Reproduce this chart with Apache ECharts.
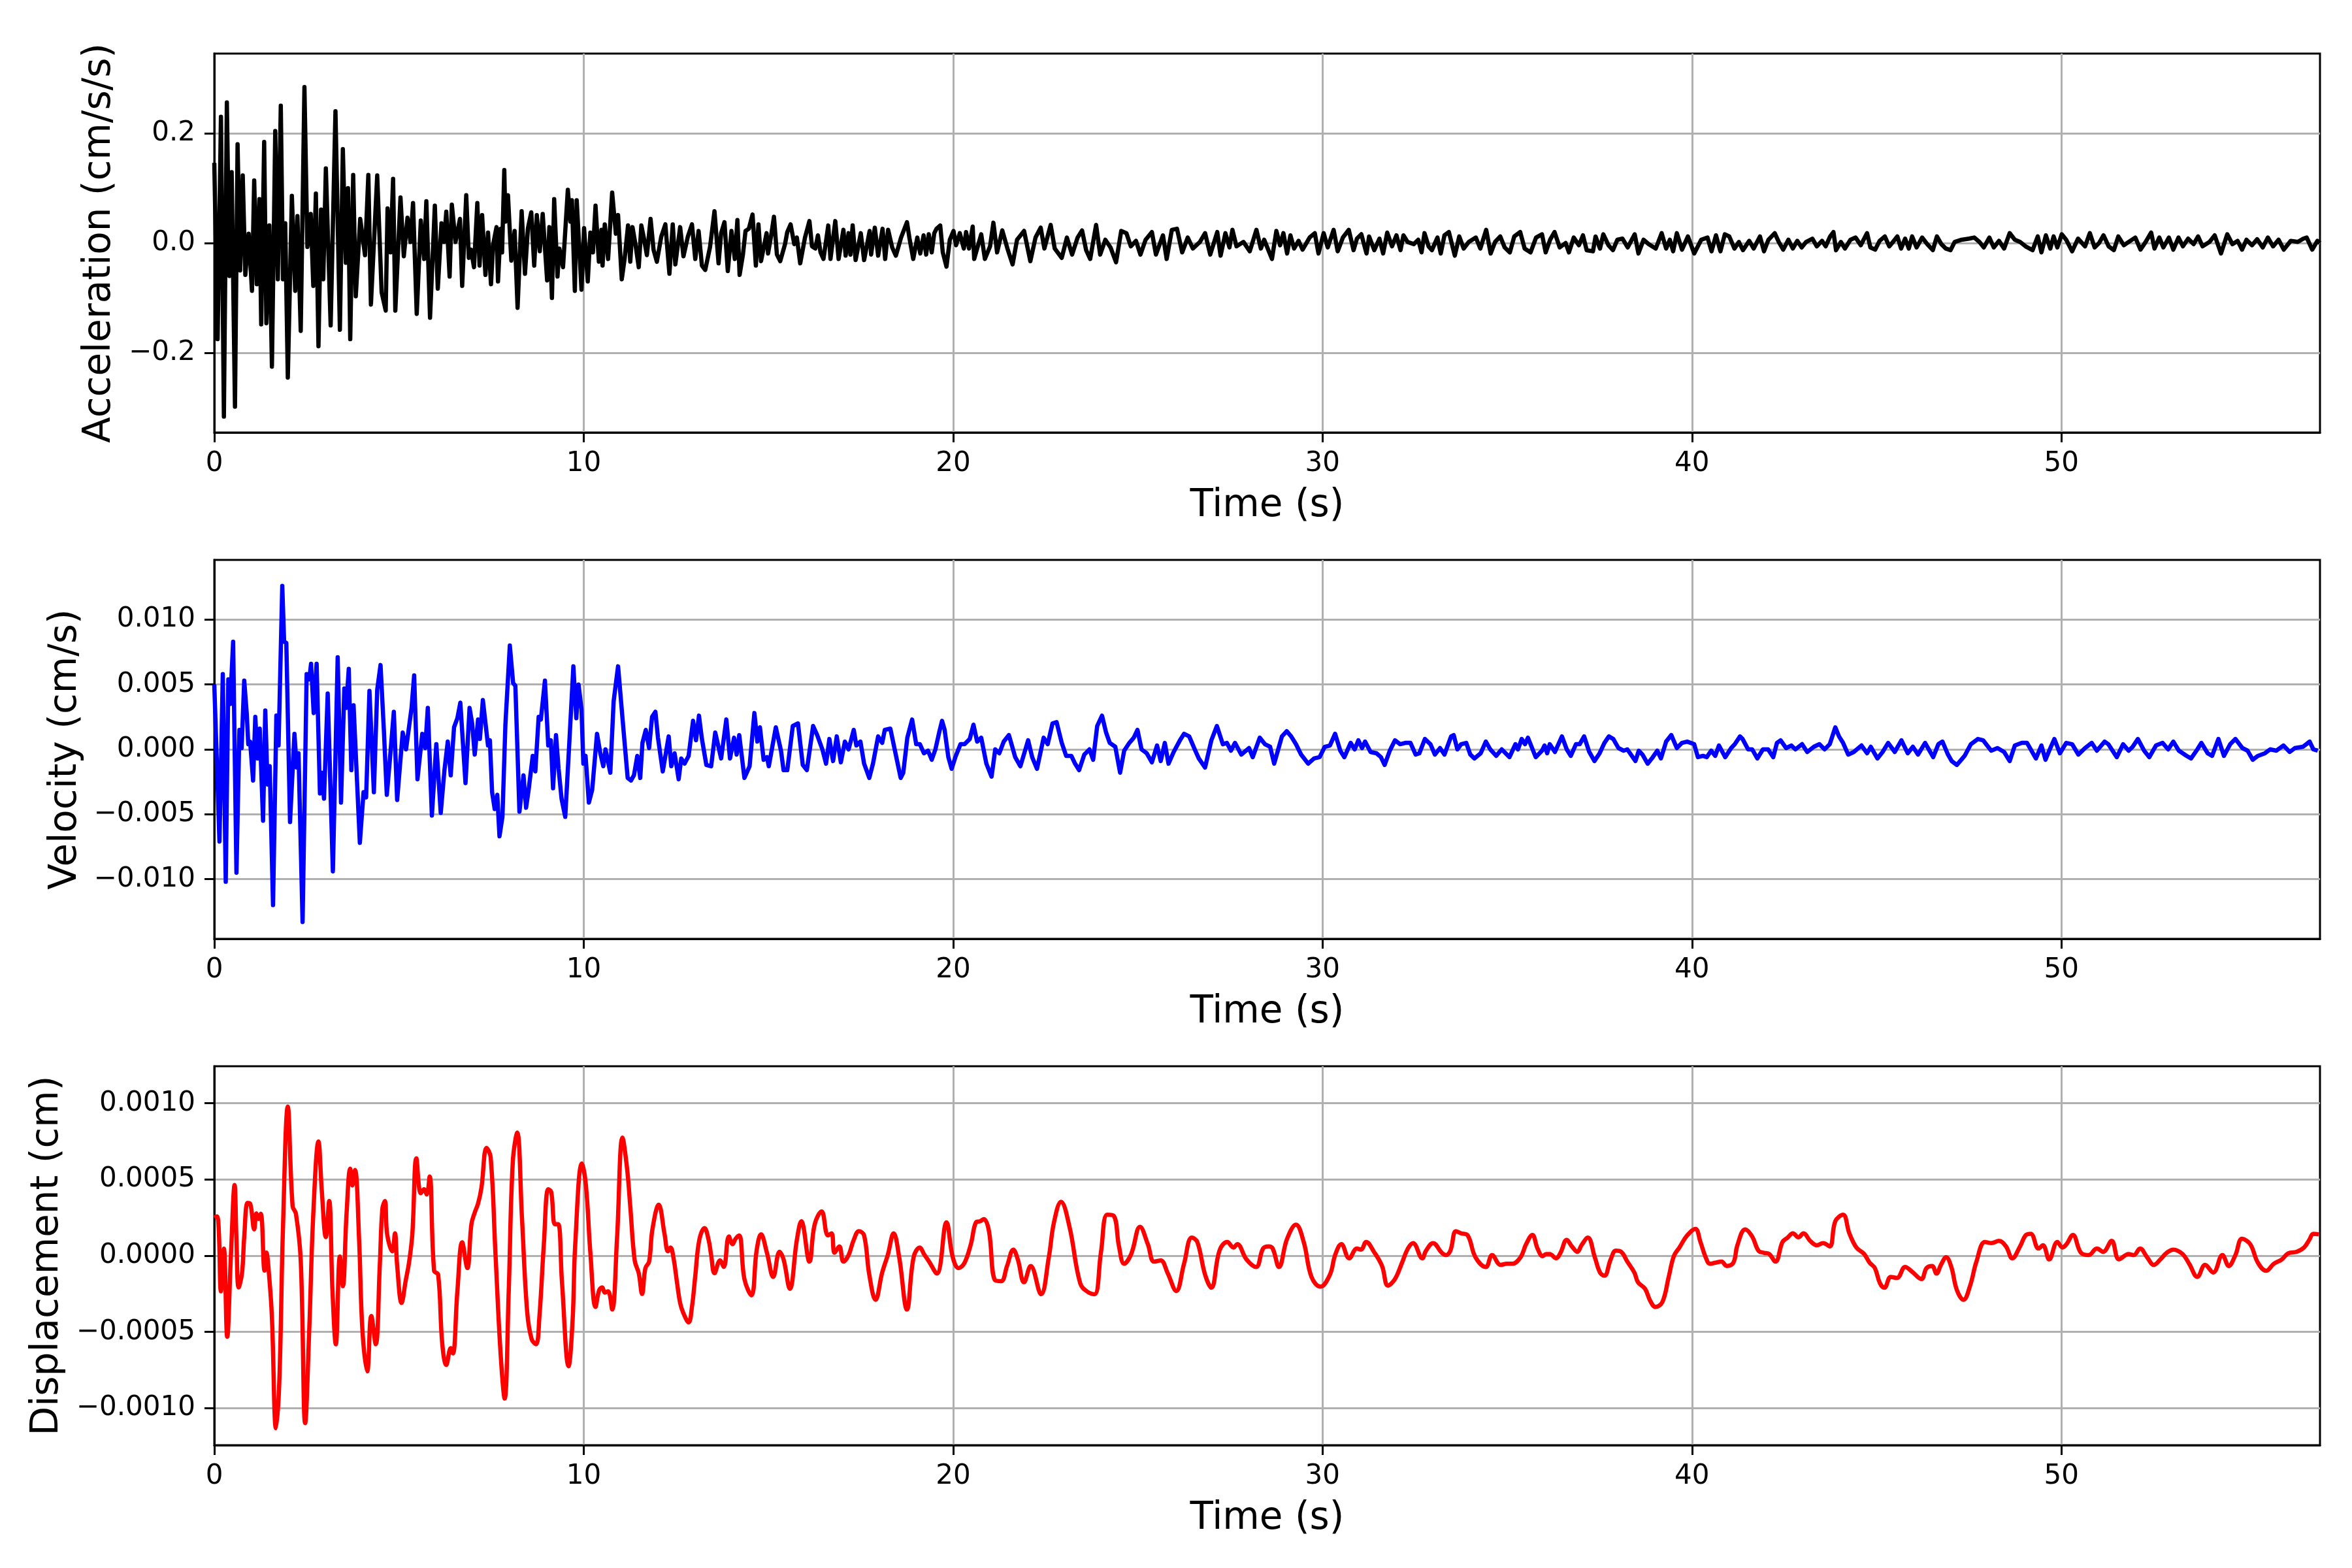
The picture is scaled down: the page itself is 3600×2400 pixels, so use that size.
<!DOCTYPE html>
<html>
<head>
<meta charset="utf-8">
<title>Acceleration, velocity and displacement</title>
<script src="https://cdn.jsdelivr.net/npm/echarts@6/dist/echarts.min.js"></script>
<style>
  html, body { margin: 0; padding: 0; background: #ffffff; }
  #chart { width: 3600px; height: 2400px; }
</style>
</head>
<body>
<div id="chart"></div>
<script>
// time axis ticks and y tick positions
const timeTicks = [0, 10, 20, 30, 40, 50];
const accTicks = [-0.2, 0, 0.2];
const velTicks = [-0.01, -0.005, 0, 0.005, 0.01];
const dispTicks = [-0.001, -0.0005, 0, 0.0005, 0.001];

// acceleration [time s, cm/s/s]
const accel = [
  [0.00,0.146],[0.09,-0.175],[0.18,0.23],[0.26,-0.316],[0.34,0.256],[0.41,-0.06],[0.47,0.129],[0.56,-0.298],[0.63,0.18],[0.70,-0.05],
  [0.77,0.123],[0.84,-0.058],[0.93,0.017],[1.02,-0.087],[1.08,0.114],[1.15,-0.075],[1.22,0.08],[1.27,-0.148],[1.35,0.184],[1.41,-0.146],
  [1.49,0.032],[1.56,-0.225],[1.65,0.204],[1.72,-0.066],[1.80,0.25],[1.86,-0.066],[1.92,0.036],[1.99,-0.245],[2.10,0.086],[2.19,-0.087],
  [2.25,0.049],[2.34,-0.16],[2.44,0.284],[2.52,-0.007],[2.61,0.053],[2.68,-0.078],[2.75,0.09],[2.82,-0.188],[2.89,0.061],[2.95,-0.066],
  [3.02,0.136],[3.15,-0.15],[3.28,0.24],[3.40,-0.158],[3.48,0.171],[3.56,-0.036],[3.62,0.1],[3.68,-0.175],[3.76,0.124],[3.83,-0.097],
  [3.95,0.044],[4.08,-0.022],[4.17,0.124],[4.24,-0.112],[4.41,0.123],[4.53,-0.09],[4.64,-0.123],[4.69,0.063],[4.77,-0.017],[4.84,0.117],
  [4.90,-0.123],[5.04,0.083],[5.13,-0.024],[5.23,0.046],[5.31,0.002],[5.38,0.073],[5.48,-0.129],[5.59,0.041],[5.68,-0.029],[5.74,0.076],
  [5.84,-0.136],[5.97,0.068],[6.05,-0.083],[6.15,0.036],[6.22,0.002],[6.28,0.057],[6.37,-0.061],[6.43,0.07],[6.53,0.002],[6.65,0.044],
  [6.71,-0.078],[6.82,0.087],[6.89,-0.027],[6.95,-0.012],[7.03,-0.044],[7.12,0.073],[7.18,-0.041],[7.25,0.051],[7.34,-0.058],[7.41,0.019],
  [7.49,-0.075],[7.55,-0.002],[7.64,0.029],[7.68,-0.07],[7.75,0.026],[7.79,-0.017],[7.85,0.133],[7.88,0.039],[7.95,0.087],[8.04,-0.032],
  [8.13,0.022],[8.21,-0.118],[8.32,0.058],[8.41,-0.056],[8.49,0.027],[8.58,0.056],[8.66,-0.041],[8.73,0.051],[8.81,-0.015],[8.89,0.053],
  [9.01,-0.068],[9.07,0.029],[9.14,-0.1],[9.20,0.08],[9.29,-0.061],[9.34,-0.01],[9.44,-0.044],[9.57,0.097],[9.64,0.039],[9.68,0.078],
  [9.76,-0.087],[9.81,0.078],[9.94,-0.085],[10.01,0.027],[10.11,-0.07],[10.18,0.019],[10.25,-0.017],[10.32,0.068],[10.41,-0.034],[10.48,0.024],
  [10.51,-0.041],[10.57,0.034],[10.66,-0.029],[10.77,0.092],[10.87,0.017],[10.93,0.051],[11.03,-0.066],[11.11,-0.027],[11.20,0.032],[11.26,-0.034],
  [11.32,0.029],[11.40,-0.002],[11.49,-0.044],[11.56,0.032],[11.62,0.012],[11.71,-0.022],[11.81,0.044],[11.89,-0.012],[11.98,-0.034],[12.10,0.012],
  [12.21,0.034],[12.32,-0.056],[12.41,0.034],[12.48,-0.039],[12.61,0.029],[12.70,-0.024],[12.82,0.012],[12.93,0.034],[13.02,-0.029],[13.11,0.022],
  [13.20,-0.041],[13.29,-0.049],[13.42,-0.007],[13.54,0.058],[13.65,-0.037],[13.72,0.018],[13.81,0.038],[13.90,-0.051],[14.00,0.022],[14.09,-0.029],
  [14.16,0.042],[14.22,-0.058],[14.31,-0.021],[14.38,0.022],[14.47,0.026],[14.57,0.052],[14.66,-0.041],[14.73,0.034],[14.80,-0.033],[14.95,0.018],
  [14.99,-0.019],[15.07,0.012],[15.15,0.048],[15.23,-0.021],[15.32,-0.033],[15.45,-0.002],[15.51,0.02],[15.60,0.034],[15.70,-0.002],[15.77,0.01],
  [15.86,-0.037],[15.99,0.01],[16.11,0.04],[16.18,-0.006],[16.27,-0.01],[16.34,0.014],[16.41,-0.017],[16.49,-0.029],[16.62,0.032],[16.68,-0.029],
  [16.81,0.04],[16.90,-0.029],[17.03,0.024],[17.09,-0.023],[17.17,0.018],[17.22,-0.021],[17.28,0.032],[17.36,-0.031],[17.50,0.018],[17.59,-0.031],
  [17.74,0.022],[17.78,-0.021],[17.88,0.028],[17.97,-0.023],[18.09,0.026],[18.16,-0.029],[18.24,0.024],[18.35,-0.008],[18.45,-0.023],[18.59,0.01],
  [18.75,0.038],[18.82,0.008],[18.92,-0.029],[19.03,0.01],[19.11,-0.019],[19.20,0.014],[19.27,-0.021],[19.34,0.016],[19.42,-0.017],[19.49,0.018],
  [19.55,0.026],[19.65,0.032],[19.72,-0.017],[19.82,-0.043],[19.91,0.006],[20.01,0.022],[20.08,-0.004],[20.18,0.018],[20.29,-0.01],[20.35,0.02],
  [20.43,-0.01],[20.53,0.03],[20.57,-0.029],[20.76,0.016],[20.86,-0.029],[21.00,-0.006],[21.09,0.037],[21.19,-0.017],[21.33,0.023],[21.47,-0.01],
  [21.61,-0.039],[21.73,0.006],[21.92,0.022],[22.09,-0.033],[22.23,0.01],[22.37,0.028],[22.47,-0.01],[22.64,0.033],[22.75,-0.01],[22.94,-0.027],
  [23.08,0.01],[23.22,-0.021],[23.37,0.01],[23.49,0.023],[23.60,-0.013],[23.71,-0.029],[23.87,0.033],[23.98,-0.021],[24.12,0.006],[24.26,-0.008],
  [24.41,-0.035],[24.55,0.022],[24.69,0.018],[24.81,-0.006],[24.95,0.004],[25.07,-0.021],[25.21,0.006],[25.38,0.02],[25.49,-0.021],[25.68,0.014],
  [25.78,-0.029],[25.92,0.024],[26.06,0.026],[26.20,-0.017],[26.35,0.01],[26.49,-0.01],[26.68,0.002],[26.82,0.018],[26.96,-0.021],[27.15,0.02],
  [27.24,-0.023],[27.37,0.018],[27.48,-0.008],[27.56,0.024],[27.67,-0.006],[27.86,0.002],[28.03,-0.015],[28.21,0.024],[28.33,-0.01],[28.42,0.006],
  [28.63,-0.029],[28.75,0.022],[28.85,-0.004],[28.94,0.018],[29.04,-0.019],[29.13,0.014],[29.23,-0.01],[29.35,0.004],[29.46,-0.012],[29.65,0.01],
  [29.79,0.018],[29.89,-0.019],[30.03,0.018],[30.14,-0.008],[30.30,0.024],[30.41,-0.015],[30.55,0.01],[30.71,0.024],[30.84,-0.013],[30.93,0.008],
  [31.05,0.016],[31.19,-0.019],[31.26,0.012],[31.40,-0.013],[31.54,0.008],[31.64,-0.019],[31.75,0.019],[31.88,-0.006],[32.00,0.014],[32.11,-0.013],
  [32.19,0.014],[32.30,0.002],[32.47,-0.002],[32.59,0.006],[32.68,-0.017],[32.76,0.018],[32.87,-0.006],[32.96,-0.013],[33.11,0.01],[33.20,-0.019],
  [33.30,0.014],[33.42,0.02],[33.58,-0.023],[33.70,0.012],[33.82,-0.01],[33.96,0.002],[34.15,0.01],[34.27,-0.01],[34.43,0.024],[34.55,-0.019],
  [34.67,0.002],[34.81,0.012],[34.93,-0.008],[35.07,-0.017],[35.19,0.012],[35.35,0.02],[35.47,-0.01],[35.63,-0.017],[35.78,0.01],[35.94,0.016],
  [36.04,-0.017],[36.16,0.006],[36.28,0.02],[36.42,-0.008],[36.58,0],[36.67,-0.017],[36.80,0.01],[36.94,-0.004],[37.05,0.014],[37.15,-0.013],
  [37.32,-0.015],[37.39,0.012],[37.51,-0.01],[37.60,0.016],[37.74,-0.004],[37.86,-0.013],[37.98,0.006],[38.12,0.008],[38.26,-0.008],[38.45,0.016],
  [38.55,-0.019],[38.69,0.006],[38.83,-0.002],[39.02,-0.01],[39.18,0.018],[39.30,-0.01],[39.40,0.006],[39.49,-0.015],[39.59,0.018],[39.73,-0.012],
  [39.89,0.012],[40.06,-0.019],[40.25,0.006],[40.42,0.01],[40.53,-0.015],[40.65,0.014],[40.77,-0.015],[40.89,0.016],[41.01,0.012],[41.15,-0.01],
  [41.27,0.002],[41.38,-0.013],[41.55,0.004],[41.67,-0.01],[41.84,0.012],[41.95,-0.015],[42.07,0.006],[42.24,0.018],[42.35,0.002],[42.47,-0.012],
  [42.61,0.006],[42.73,-0.01],[42.85,0.004],[42.97,-0.008],[43.09,0.002],[43.26,0.008],[43.38,-0.006],[43.52,0.004],[43.62,-0.006],[43.74,0.012],
  [43.83,0.02],[43.90,-0.013],[44.03,0.002],[44.14,-0.01],[44.29,0.006],[44.43,0.01],[44.57,-0.004],[44.74,0.018],[44.83,-0.008],[44.96,-0.012],
  [45.08,0.004],[45.22,0.012],[45.34,-0.006],[45.44,0.002],[45.56,0.012],[45.66,-0.01],[45.77,0.008],[45.87,-0.01],[45.96,0.012],[46.08,-0.008],
  [46.23,0.01],[46.37,-0.002],[46.52,-0.013],[46.63,0.012],[46.75,-0.002],[46.87,-0.01],[47.00,-0.013],[47.11,0.002],[47.30,0.006],[47.50,0.008],
  [47.64,0.01],[47.78,0.002],[47.90,-0.008],[48.05,0.01],[48.17,-0.008],[48.31,0.004],[48.45,-0.01],[48.60,0.018],[48.74,0.006],[48.88,0.002],
  [49.03,-0.006],[49.22,-0.013],[49.36,0.012],[49.46,-0.017],[49.58,0.014],[49.70,-0.01],[49.79,0.012],[49.89,-0.008],[50.01,0.016],[50.13,0.006],
  [50.29,-0.015],[50.45,0.008],[50.64,-0.006],[50.77,0.018],[50.90,-0.008],[51.02,0],[51.14,0.014],[51.28,-0.006],[51.42,-0.013],[51.54,0.012],
  [51.69,-0.004],[51.82,0.002],[52.00,0.01],[52.14,-0.012],[52.28,0.002],[52.43,0.019],[52.52,-0.01],[52.65,0.01],[52.76,-0.008],[52.91,0.01],
  [53.03,-0.012],[53.17,0.01],[53.29,-0.006],[53.43,0.008],[53.58,-0.002],[53.70,0.012],[53.82,-0.006],[54.01,0.002],[54.15,0.014],[54.32,-0.019],
  [54.49,0.016],[54.63,-0.002],[54.77,0.004],[54.89,-0.012],[55.01,0.006],[55.16,-0.004],[55.30,0.007],[55.45,-0.008],[55.59,0.01],[55.73,-0.006],
  [55.88,0.006],[56.02,-0.012],[56.21,0.004],[56.40,0.002],[56.55,0.008],[56.64,0.01],[56.79,-0.012],[56.93,0.004],[57.00,0.0]
];

// velocity [time s, cm/s]
const velocity = [
  [0.00,0.005],[0.14,-0.0071],[0.23,0.0058],[0.31,-0.0102],[0.38,0.0054],[0.43,0.0035],[0.51,0.0083],[0.60,-0.0095],[0.68,0.0015],[0.74,0.0001],
  [0.81,0.0053],[0.88,0.0027],[0.92,0.0004],[0.97,0.0006],[1.05,-0.0024],[1.11,0.0025],[1.17,-0.0007],[1.23,0.0016],[1.32,-0.0055],[1.38,0.003],
  [1.44,-0.0027],[1.50,-0.0013],[1.59,-0.012],[1.68,0.0026],[1.74,0.0003],[1.84,0.0126],[1.89,0.0083],[1.95,0.0082],[2.05,-0.0056],[2.17,0.0012],
  [2.23,-0.0014],[2.28,-0.0003],[2.39,-0.0133],[2.50,0.0058],[2.57,0.0054],[2.62,0.0066],[2.69,0.0028],[2.77,0.0066],[2.86,-0.0034],[2.91,-0.0018],
  [2.97,-0.0038],[3.07,0.0043],[3.21,-0.0094],[3.34,0.0071],[3.43,-0.0041],[3.52,0.0047],[3.57,0.0032],[3.64,0.0062],[3.71,-0.0016],[3.77,0.0034],
  [3.94,-0.0072],[4.04,-0.0033],[4.11,-0.0037],[4.20,0.0045],[4.32,-0.0033],[4.41,0.0046],[4.50,0.0065],[4.59,0.0015],[4.67,-0.0035],[4.75,-0.0009],
  [4.86,0.0029],[4.95,-0.0039],[5.10,0.0013],[5.19,0.0000],[5.27,0.0017],[5.34,0.0032],[5.41,0.0057],[5.50,-0.0023],[5.63,0.0012],[5.71,0.0001],
  [5.78,0.0032],[5.89,-0.0051],[6.01,0.0004],[6.13,-0.0049],[6.23,-0.0016],[6.32,0.0006],[6.40,-0.002],[6.49,0.0017],[6.58,0.0024],[6.66,0.0036],
  [6.80,-0.0026],[6.91,0.0032],[6.98,0.002],[7.05,-0.0004],[7.14,0.0023],[7.19,0.0008],[7.27,0.0038],[7.41,0.0003],[7.46,0.0007],[7.52,-0.0033],
  [7.59,-0.0046],[7.66,-0.0035],[7.72,-0.0067],[7.80,-0.0052],[7.88,0.0019],[8.00,0.008],[8.09,0.0051],[8.15,0.0049],[8.26,-0.0048],[8.37,-0.002],
  [8.44,-0.0045],[8.51,-0.0031],[8.62,-0.0005],[8.69,-0.0017],[8.78,0.0025],[8.84,0.0023],[8.95,0.0053],[9.04,0.0003],[9.11,0.0007],[9.17,-0.003],
  [9.25,0.0011],[9.32,-0.0015],[9.40,-0.0038],[9.50,-0.0052],[9.61,0.0005],[9.72,0.0064],[9.80,0.0024],[9.86,0.005],[9.94,0.0031],[9.99,-0.0011],
  [10.05,-0.0005],[10.14,-0.0041],[10.23,-0.0031],[10.36,0.0012],[10.45,-0.0003],[10.53,-0.0013],[10.59,0.0000],[10.72,-0.0018],[10.81,0.0037],[10.93,0.0064],
  [11.08,0.0014],[11.19,-0.0022],[11.28,-0.0024],[11.36,-0.002],[11.45,-0.0005],[11.53,-0.0022],[11.59,0.0005],[11.68,0.0015],[11.77,0.0001],[11.85,0.0025],
  [11.94,0.0029],[12.01,0.0009],[12.14,-0.0017],[12.30,0.001],[12.37,-0.0013],[12.46,-0.0003],[12.57,-0.0023],[12.64,-0.0007],[12.73,-0.0011],[12.84,-0.0005],
  [12.96,0.0022],[13.04,0.0007],[13.12,0.0026],[13.20,0.0008],[13.32,-0.0012],[13.45,-0.0013],[13.56,0.0013],[13.72,-0.0007],[13.86,0.0023],[13.96,-0.0007],
  [14.07,0.0009],[14.14,-0.0004],[14.21,0.0011],[14.35,-0.0022],[14.49,-0.0013],[14.62,0.0028],[14.70,0.0006],[14.77,0.0017],[14.87,-0.0008],[14.96,-0.0006],
  [15.01,-0.0013],[15.20,0.0017],[15.34,-0.0001],[15.41,-0.0016],[15.51,-0.0016],[15.66,0.0018],[15.80,0.002],[15.93,-0.0012],[16.04,-0.0016],[16.21,0.0018],
  [16.32,0.0011],[16.46,0.0000],[16.56,-0.0011],[16.65,0.0008],[16.75,-0.0009],[16.85,0.001],[16.96,-0.001],[17.07,0.0006],[17.17,0.0000],[17.31,0.0015],
  [17.38,0.0003],[17.49,0.0006],[17.59,-0.0011],[17.73,-0.0022],[17.83,-0.0011],[17.97,0.001],[18.08,0.0005],[18.15,0.0015],[18.30,0.0016],[18.44,-0.0003],
  [18.58,-0.0022],[18.65,-0.0018],[18.76,0.0009],[18.89,0.0023],[19.00,0.0004],[19.10,0.0004],[19.21,-0.0003],[19.32,-0.0001],[19.42,-0.0008],[19.52,0.0000],
  [19.63,0.0014],[19.70,0.0022],[19.77,0.0015],[19.87,-0.0006],[19.96,-0.0015],[20.06,-0.0006],[20.20,0.0004],[20.31,0.0004],[20.45,0.0008],[20.55,0.0019],
  [20.65,0.0006],[20.76,0.0009],[20.90,-0.0011],[21.04,-0.0021],[21.14,0.0000],[21.25,-0.0003],[21.37,0.0006],[21.51,0.0011],[21.68,-0.0006],[21.82,-0.0013],
  [22.03,0.0007],[22.14,-0.0006],[22.27,-0.0015],[22.45,0.0009],[22.56,0.0004],[22.69,0.002],[22.80,0.0021],[22.94,0.0005],[23.06,-0.0005],[23.20,-0.0005],
  [23.30,-0.0011],[23.41,-0.0016],[23.55,-0.0004],[23.69,0.0000],[23.79,-0.0008],[23.90,0.0018],[24.03,0.0026],[24.14,0.0013],[24.24,0.0005],[24.39,0.0002],
  [24.52,-0.0018],[24.63,-0.0001],[24.77,0.0005],[24.89,0.0009],[24.99,0.0015],[25.10,0.0000],[25.24,-0.0003],[25.38,-0.001],[25.52,0.0003],[25.62,-0.0009],
  [25.73,0.0005],[25.83,-0.0011],[25.97,-0.0002],[26.14,0.0007],[26.25,0.0012],[26.39,0.001],[26.54,0.0000],[26.65,-0.0007],[26.82,-0.0014],[26.99,0.0007],
  [27.14,0.0018],[27.30,0.0004],[27.41,0.0005],[27.52,-0.0001],[27.63,0.0005],[27.80,-0.0004],[28.01,0.0001],[28.11,-0.0006],[28.30,0.0009],[28.44,0.0004],
  [28.58,0.0002],[28.69,-0.0011],[28.79,-0.0001],[28.90,0.001],[29.03,0.0014],[29.15,0.001],[29.28,0.0004],[29.42,-0.0004],[29.61,-0.0011],[29.77,-0.0007],
  [29.92,-0.0006],[30.06,0.0002],[30.20,0.0003],[30.34,0.0012],[30.48,-0.0001],[30.59,-0.0006],[30.76,0.0005],[30.87,0.0000],[30.97,0.0007],[31.07,0.0001],
  [31.15,0.0006],[31.30,-0.0002],[31.46,-0.0003],[31.58,-0.0006],[31.68,-0.0012],[31.82,-0.0001],[31.96,0.0007],[32.10,0.0004],[32.24,0.0005],[32.38,0.0005],
  [32.52,-0.0004],[32.62,-0.0003],[32.77,0.0008],[32.92,0.0004],[33.04,-0.0004],[33.18,0.0001],[33.30,-0.0004],[33.48,0.001],[33.55,0.0011],[33.65,0.0000],
  [33.75,0.0004],[33.89,0.0005],[34.00,-0.0004],[34.11,-0.0007],[34.28,-0.0003],[34.42,0.0006],[34.54,0.0000],[34.70,-0.0005],[34.85,0.0000],[35.06,-0.0006],
  [35.22,0.0004],[35.29,0.0000],[35.39,0.0008],[35.48,0.0004],[35.56,0.0009],[35.77,-0.0006],[35.94,-0.0001],[36.01,0.0003],[36.08,-0.0003],[36.15,0.0004],
  [36.29,-0.0002],[36.48,0.001],[36.61,0.0000],[36.72,-0.0005],[36.86,0.0004],[36.96,0.0004],[37.08,0.001],[37.22,-0.0002],[37.36,-0.0009],[37.50,-0.0003],
  [37.63,0.0005],[37.75,0.001],[37.87,0.0008],[38.01,0.0001],[38.15,-0.0001],[38.25,0.0000],[38.47,-0.0009],[38.56,-0.0001],[38.66,-0.0004],[38.80,-0.0011],
  [38.94,-0.0006],[39.06,-0.0001],[39.16,-0.0007],[39.30,0.0006],[39.44,0.0011],[39.59,0.0001],[39.73,0.0005],[39.87,0.0006],[40.06,0.0004],[40.16,-0.0006],
  [40.30,-0.0005],[40.40,-0.0006],[40.52,-0.0001],[40.63,-0.0005],[40.73,0.0003],[40.90,-0.0006],[41.06,0.0001],[41.16,0.0004],[41.30,0.001],[41.37,0.0008],
  [41.52,0.0000],[41.63,0.0000],[41.77,-0.0007],[41.92,0.0000],[42.06,0.0000],[42.20,-0.0006],[42.30,0.0005],[42.40,0.0007],[42.55,0.0001],[42.69,0.0003],
  [42.80,0.0000],[42.98,0.0004],[43.12,-0.0002],[43.30,0.0002],[43.45,0.0004],[43.59,0.0000],[43.73,0.0004],[43.88,0.0017],[43.98,0.001],[44.09,0.0005],
  [44.23,-0.0004],[44.38,-0.0002],[44.59,0.0003],[44.74,-0.0003],[44.84,0.0002],[45.02,-0.0007],[45.16,-0.0002],[45.31,0.0005],[45.49,-0.0002],[45.67,0.0007],
  [45.84,-0.0003],[45.98,0.0002],[46.12,-0.0004],[46.31,0.0005],[46.53,-0.0006],[46.67,0.0004],[46.78,0.0006],[46.93,-0.0004],[47.03,-0.0009],[47.17,-0.0012],
  [47.38,-0.0005],[47.55,0.0004],[47.74,0.0008],[47.88,0.0007],[48.10,-0.0001],[48.27,0.0001],[48.45,-0.0002],[48.60,-0.0009],[48.74,0.0003],[48.93,0.0005],
  [49.07,0.0005],[49.31,-0.0007],[49.46,0.0003],[49.57,-0.0008],[49.67,-0.0001],[49.81,0.0008],[49.96,-0.0003],[50.13,0.0005],[50.29,0.0004],[50.46,-0.0004],
  [50.64,0.0001],[50.82,0.0005],[50.96,-0.0001],[51.17,0.0006],[51.27,0.0004],[51.50,-0.0006],[51.67,0.0004],[51.82,-0.0001],[51.93,0.0002],[52.07,0.0008],
  [52.24,-0.0001],[52.38,-0.0006],[52.56,0.0003],[52.74,0.0005],[52.89,0.0000],[53.03,0.0006],[53.18,-0.0001],[53.39,-0.0005],[53.51,-0.0007],[53.68,0.0000],
  [53.79,0.0005],[53.96,-0.0003],[54.08,-0.0005],[54.25,0.0008],[54.40,-0.0005],[54.57,0.0004],[54.71,0.0008],[54.90,0.0001],[55.04,-0.0001],[55.18,-0.0008],
  [55.32,-0.0005],[55.51,-0.0003],[55.65,0.0000],[55.82,-0.0001],[56.01,0.0003],[56.18,-0.0002],[56.32,0.0001],[56.54,0.0002],[56.72,0.0006],[56.82,0.0000],
  [56.94,-0.0001]
];

// displacement [time s, units of 1e-4 cm]
const DISP_UNIT = 1e-4;
const displacement = [
  [0.00,2.5],[0.07,2.58],[0.12,1.73],[0.18,-2.34],[0.26,0.46],[0.35,-5.31],[0.45,0.03],[0.55,4.64],[0.60,1.05],[0.66,-2.08],
  [0.75,-1.15],[0.81,1.22],[0.90,3.46],[0.97,3.42],[1.08,1.73],[1.14,2.78],[1.20,2.41],[1.26,2.75],[1.36,-0.98],[1.41,0.2],
  [1.49,-1.49],[1.56,-4.03],[1.67,-11.32],[1.76,-8.27],[1.86,1.9],[1.99,9.78],[2.12,3.25],[2.21,2.75],[2.34,-0.31],[2.46,-10.98],
  [2.57,-4.88],[2.68,2.75],[2.82,7.49],[2.91,4.27],[3.02,1.22],[3.11,3.59],[3.20,-2.34],[3.29,-5.81],[3.40,-0.05],[3.48,-2.0],
  [3.58,2.75],[3.68,5.71],[3.74,4.61],[3.81,5.63],[3.92,1.05],[4.01,-4.88],[4.14,-7.59],[4.25,-3.95],[4.37,-5.81],[4.48,-0.64],
  [4.55,3.08],[4.62,3.59],[4.68,1.39],[4.82,0.29],[4.89,1.47],[4.95,-0.64],[5.07,-3.1],[5.18,-1.66],[5.27,-0.47],[5.36,1.39],
  [5.47,6.39],[5.59,4.1],[5.68,4.36],[5.75,4.02],[5.83,5.2],[5.95,-0.98],[6.06,-1.24],[6.17,-5.73],[6.28,-7.17],[6.40,-6.07],
  [6.46,-6.41],[6.58,-2.34],[6.71,0.88],[6.85,-0.81],[6.96,2.07],[7.05,2.83],[7.14,3.42],[7.23,4.44],[7.37,7.07],[7.48,6.47],
  [7.61,0.2],[7.75,-6.41],[7.86,-9.37],[7.97,-2.34],[8.08,6.14],[8.20,8.08],[8.33,2.41],[8.47,-3.69],[8.59,-5.47],[8.71,-5.81],
  [8.80,-4.03],[8.92,0.71],[9.04,4.36],[9.12,4.19],[9.22,2.07],[9.31,2.07],[9.41,-1.66],[9.59,-7.25],[9.70,-4.2],[9.77,0.71],
  [9.95,6.05],[10.06,4.61],[10.18,0.2],[10.32,-3.36],[10.42,-2.25],[10.50,-2.08],[10.57,-2.42],[10.66,-2.34],[10.77,-3.53],[10.90,1.05],
  [11.05,7.75],[11.17,5.8],[11.26,3.25],[11.38,-0.31],[11.49,-1.15],[11.58,-2.51],[11.67,-0.81],[11.77,-0.39],[11.86,1.73],[12.03,3.34],
  [12.19,1.39],[12.28,0.29],[12.35,0.54],[12.43,-0.14],[12.52,-1.66],[12.61,-3.1],[12.70,-3.78],[12.84,-4.37],[12.93,-3.36],[13.02,-1.32],
  [13.13,1.05],[13.27,1.81],[13.38,1.05],[13.45,0.03],[13.54,-1.15],[13.69,-0.31],[13.79,-0.74],[13.93,1.26],[14.03,0.76],[14.11,1.11],
  [14.21,1.33],[14.35,-1.53],[14.54,-2.6],[14.68,0.33],[14.80,1.4],[14.96,0.19],[15.13,-1.39],[15.30,0.26],[15.41,-0.24],[15.58,-2.17],
  [15.77,1.04],[15.89,2.26],[16.11,-0.39],[16.25,2.04],[16.44,2.9],[16.61,1.33],[16.71,1.47],[16.79,0.19],[16.92,0.61],[17.03,-0.39],
  [17.17,0.04],[17.31,1.04],[17.45,1.61],[17.59,1.33],[17.73,-1.24],[17.90,-2.89],[18.08,-1.1],[18.23,0.04],[18.39,1.47],[18.54,-0.1],
  [18.75,-3.53],[18.93,-0.1],[19.10,0.54],[19.21,0.11],[19.35,-0.39],[19.56,-1.17],[19.82,2.19],[19.99,-0.1],[20.15,-0.81],[20.31,-0.46],
  [20.48,0.76],[20.62,2.19],[20.73,2.26],[20.83,2.4],[20.97,1.61],[21.13,-1.6],[21.30,-1.67],[21.46,-0.67],[21.63,0.4],[21.75,-0.24],
  [21.92,-1.74],[22.10,-0.67],[22.38,-2.53],[22.59,-0.1],[22.73,2.19],[22.92,3.54],[23.15,1.9],[23.44,-1.81],[23.65,-2.39],[23.83,-2.53],
  [24.00,0.19],[24.17,2.69],[24.35,2.61],[24.49,0.61],[24.63,-0.53],[24.82,0.11],[25.06,1.9],[25.27,0.76],[25.44,-0.39],[25.62,-0.31],
  [25.80,-1.1],[26.04,-2.31],[26.25,-0.53],[26.46,1.19],[26.61,0.9],[26.82,-1.24],[26.99,-2.1],[27.21,0.33],[27.42,0.9],[27.59,0.54],
  [27.69,0.76],[27.94,-0.24],[28.20,-0.74],[28.39,0.47],[28.54,0.61],[28.65,0.47],[28.82,-0.74],[29.04,1.11],[29.28,2.04],[29.49,0.9],
  [29.70,-1.39],[29.94,-2.03],[30.20,-1.24],[30.34,0.04],[30.51,0.76],[30.72,-0.17],[30.93,0.47],[31.04,0.4],[31.18,0.9],[31.39,0.26],
  [31.61,-0.67],[31.77,-1.96],[31.96,-1.53],[32.14,-0.53],[32.31,0.47],[32.45,0.83],[32.70,-0.17],[32.80,0.33],[32.99,0.83],[33.23,0.19],
  [33.34,0.04],[33.46,0.33],[33.61,1.61],[33.75,1.47],[33.93,1.33],[34.14,-0.1],[34.42,-0.74],[34.59,0.04],[34.82,-0.6],[34.99,-0.53],
  [35.13,-0.53],[35.36,-0.1],[35.51,0.76],[35.68,1.36],[35.82,0.47],[35.96,-0.03],[36.05,0.11],[36.15,0.11],[36.32,-0.17],[36.44,0.19],
  [36.61,1.04],[36.75,0.61],[36.90,0.26],[37.01,0.69],[37.18,1.19],[37.37,-0.1],[37.51,-1.1],[37.63,-1.31],[37.80,-0.24],[37.94,0.33],
  [38.08,0.26],[38.25,-0.39],[38.44,-1.1],[38.54,-1.74],[38.73,-2.17],[38.87,-2.96],[39.01,-3.36],[39.20,-3.03],[39.37,-1.39],[39.51,-0.03],
  [39.66,0.54],[39.87,1.33],[40.09,1.76],[40.23,0.9],[40.37,-0.1],[40.49,-0.53],[40.63,-0.46],[40.80,-0.39],[40.94,-0.67],[41.12,-0.46],
  [41.23,0.69],[41.44,1.73],[41.63,1.26],[41.80,0.33],[41.95,0.19],[42.09,0.11],[42.26,-0.39],[42.45,0.9],[42.59,1.19],[42.73,1.47],
  [42.88,1.21],[43.02,1.47],[43.20,0.97],[43.38,0.69],[43.55,0.83],[43.73,0.61],[43.88,2.26],[44.09,2.69],[44.26,1.47],[44.45,0.54],
  [44.66,0.11],[44.81,-0.46],[44.95,-0.81],[45.09,-1.81],[45.21,-2.1],[45.38,-1.39],[45.55,-1.46],[45.77,-0.74],[45.95,-1.03],[46.21,-1.53],
  [46.35,-0.81],[46.50,-0.67],[46.62,-1.17],[46.74,-0.6],[46.88,-0.1],[47.02,-0.74],[47.17,-2.24],[47.35,-2.89],[47.53,-1.96],[47.70,-0.39],
  [47.93,0.9],[48.10,0.83],[48.31,0.97],[48.50,0.61],[48.67,-0.17],[48.88,0.61],[49.03,1.33],[49.17,1.44],[49.38,0.47],[49.50,0.69],
  [49.67,-0.24],[49.89,0.9],[50.03,0.54],[50.14,0.76],[50.31,1.36],[50.53,0.19],[50.74,0.04],[50.96,0.47],[51.13,0.26],[51.36,0.97],
  [51.56,-0.24],[51.82,0.11],[51.96,0.04],[52.13,0.47],[52.32,-0.1],[52.50,-0.6],[52.68,-0.24],[52.85,0.19],[53.03,0.4],[53.28,0.11],
  [53.46,-0.53],[53.68,-1.39],[53.89,-0.6],[54.11,-1.1],[54.36,0.04],[54.53,-0.67],[54.71,0.04],[54.89,1.11],[55.11,0.76],[55.32,-0.46],
  [55.54,-0.99],[55.75,-0.53],[55.97,-0.24],[56.14,0.16],[56.37,0.26],[56.57,0.54],[56.71,1.04],[56.82,1.44],[56.97,1.4]
];

const FONT = 'DejaVu Sans';
const gridTops = [82, 857, 1632];

function signed(v, digits) {
  return (v < 0 ? '\u2212' : '') + Math.abs(v).toFixed(digits);
}

function makeXAxis(i) {
  return {
    type: 'value', gridIndex: i, min: 0, max: 57,
    name: 'Time (s)', nameLocation: 'middle', nameGap: 84,
    nameTextStyle: { fontFamily: FONT, fontSize: 58, color: '#000' },
    axisLine: { show: true, onZero: false, lineStyle: { color: '#000', width: 3 } },
    axisTick: { show: true, inside: false, length: 15, customValues: timeTicks, lineStyle: { color: '#000', width: 3 } },
    axisLabel: { show: true, margin: 27, customValues: timeTicks, fontFamily: FONT, fontSize: 42, color: '#000',
      formatter: v => String(v) },
    splitLine: { show: true, lineStyle: { color: '#b0b0b0', width: 3 } }
  };
}

function makeYAxis(i, name, lim, ticks, digits, gap) {
  return {
    type: 'value', gridIndex: i, min: -lim, max: lim,
    name: name, nameLocation: 'middle', nameRotate: 90, nameGap: gap,
    nameTextStyle: { fontFamily: FONT, fontSize: 58, color: '#000' },
    axisLine: { show: true, onZero: false, lineStyle: { color: '#000', width: 3 } },
    axisTick: { show: true, inside: false, length: 15, customValues: ticks, lineStyle: { color: '#000', width: 3 } },
    axisLabel: { show: true, margin: 29, customValues: ticks, fontFamily: FONT, fontSize: 42, color: '#000',
      formatter: v => signed(v, digits) },
    splitLine: { show: true, lineStyle: { color: '#b0b0b0', width: 3 } }
  };
}

function makeLine(i, data, color, smooth) {
  return {
    type: 'line', xAxisIndex: i, yAxisIndex: i, data: data,
    showSymbol: false, symbol: 'none', smooth: smooth, clip: true,
    lineStyle: { color: color, width: 6.5, join: 'round' }, animation: false
  };
}

const chart = echarts.init(document.getElementById('chart'), null, { renderer: 'canvas', width: 3600, height: 2400 });

const option = {
  backgroundColor: '#ffffff',
  animation: false,
  grid: gridTops.map(t => ({
    left: 328, right: 49, top: t, height: 580,
    show: true, borderColor: '#000', borderWidth: 3, backgroundColor: 'transparent'
  })),
  xAxis: [makeXAxis(0), makeXAxis(1), makeXAxis(2)],
  yAxis: [
    makeYAxis(0, 'Acceleration (cm/s/s)', 0.345, accTicks, 1, 146),
    makeYAxis(1, 'Velocity (cm/s)', 0.0146, velTicks, 3, 198),
    makeYAxis(2, 'Displacement (cm)', 0.001243, dispTicks, 4, 226)
  ],
  series: [
    makeLine(0, accel, '#000000', false),
    makeLine(1, velocity, '#0000ff', false),
    makeLine(2, displacement.map(p => [p[0], p[1] * DISP_UNIT]), '#ff0000', 0.4)
  ]
};

chart.setOption(option);
</script>
</body>
</html>
